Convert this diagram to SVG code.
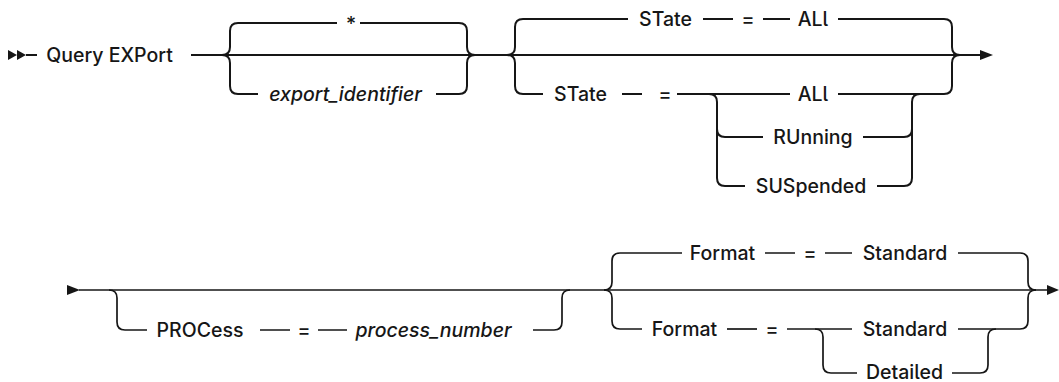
<svg xmlns="http://www.w3.org/2000/svg" width="1059" height="382" viewBox="0 0 1059 382">
<style>
.t{font-family:Inter,"Liberation Sans",Arial,sans-serif;font-size:19.5px;font-weight:500;fill:#161616;text-anchor:middle;font-feature-settings:"cv05" 1}
.i{font-style:italic}
.c{fill:none;stroke:#161616;stroke-width:2}
.c2{fill:none;stroke:#161616;stroke-width:1.7}
.a{fill:#161616}
</style>
<rect width="1059" height="382" fill="#ffffff"/>
<g id="connectors">
<!-- row 1 -->
<polygon class="a" points="8,50 17,55 8,60"/>
<polygon class="a" points="17,50 26,55 17,60"/>
<path class="c" d="M26,55 H37"/>
<path class="c" d="M191,55 H981"/>
<polygon class="a" points="980,50 993,55 980,60"/>
<!-- group 1 -->
<path class="c" d="M222,55 Q230,55 230,47 V31 Q230,23 238,23 H337"/>
<path class="c" d="M360,23 H459 Q467,23 467,31 V47 Q467,55 475,55"/>
<path class="c" d="M222,55 Q230,55 230,63 V86 Q230,94 238,94 H258"/>
<path class="c" d="M436,94 H459 Q467,94 467,86 V63 Q467,55 475,55"/>
<!-- group 2 top -->
<path class="c" d="M507,55 Q515,55 515,47 V27 Q515,19 523,19 H628"/>
<path class="c" d="M703,19 H733 M763,19 H790"/>
<path class="c" d="M838,19 H944 Q952,19 952,27 V47 Q952,55 960,55"/>
<!-- group 2 bottom -->
<path class="c" d="M507,55 Q515,55 515,63 V86 Q515,94 523,94 H543"/>
<path class="c" d="M622,94 H642"/>
<path class="c" d="M677,94 H790"/>
<path class="c" d="M838,94 H944 Q952,94 952,86 V63 Q952,55 960,55"/>
<path class="c" d="M709,94 Q717,94 717,102 V178 Q717,186 725,186 H745"/>
<path class="c" d="M717,129 Q717,137 725,137 H763"/>
<path class="c" d="M863,137 H904 Q912,137 912,129"/>
<path class="c" d="M877,186 H904 Q912,186 912,178 V102 Q912,94 920,94"/>
<!-- row 2 -->
<polygon class="a" points="67,285 80,290 67,295"/>
<path class="c2" d="M79,290 H1048"/>
<polygon class="a" points="1047,285 1059,290 1047,295"/>
<path class="c2" d="M109,290 Q117,290 117,298 V322 Q117,330 125,330 H147"/>
<path class="c2" d="M260,330 H290 M318,330 H347"/>
<path class="c2" d="M533,330 H554 Q562,330 562,322 V298 Q562,290 570,290"/>
<path class="c2" d="M604,290 Q612,290 612,282 V261 Q612,253 620,253 H682"/>
<path class="c2" d="M765,253 H795 M825,253 H852"/>
<path class="c2" d="M958,253 H1020 Q1028,253 1028,261 V282 Q1028,290 1036,290"/>
<path class="c2" d="M604,290 Q612,290 612,298 V321 Q612,329 620,329 H642"/>
<path class="c2" d="M727,329 H757"/>
<path class="c2" d="M787,329 H852"/>
<path class="c2" d="M958,329 H1020 Q1028,329 1028,321 V298 Q1028,290 1036,290"/>
<path class="c2" d="M815,329 Q823,329 823,337 V365 Q823,373 831,373 H857"/>
<path class="c2" d="M952,373 H980 Q988,373 988,365 V337 Q988,329 996,329"/>
</g>
<g id="n-query"><text class="t" x="109.5" y="62">Query EXPort</text></g>
<g id="n-star"><text class="t" x="351" y="31">*</text></g>
<g id="n-export-id"><text class="t i" x="345.5" y="101">export_identifier</text></g>
<g id="n-state1"><text class="t" x="665.5" y="26">STate</text></g>
<g id="n-eq1"><text class="t" x="748" y="26">=</text></g>
<g id="n-all1"><text class="t" x="813" y="26">ALl</text></g>
<g id="n-state2"><text class="t" x="580.5" y="101">STate</text></g>
<g id="n-eq2"><text class="t" x="665" y="101">=</text></g>
<g id="n-all2"><text class="t" x="813" y="101">ALl</text></g>
<g id="n-running"><text class="t" x="813" y="144">RUnning</text></g>
<g id="n-suspended"><text class="t" x="811" y="193">SUSpended</text></g>
<g id="n-process"><text class="t" x="200" y="337">PROCess</text></g>
<g id="n-eq3"><text class="t" x="304" y="337">=</text></g>
<g id="n-procnum"><text class="t i" x="433.5" y="337">process_number</text></g>
<g id="n-format1"><text class="t" x="722.5" y="260">Format</text></g>
<g id="n-eq4"><text class="t" x="810" y="260">=</text></g>
<g id="n-standard1"><text class="t" x="905" y="260">Standard</text></g>
<g id="n-format2"><text class="t" x="684.5" y="336">Format</text></g>
<g id="n-eq5"><text class="t" x="772" y="336">=</text></g>
<g id="n-standard2"><text class="t" x="905" y="336">Standard</text></g>
<g id="n-detailed"><text class="t" x="904.5" y="379">Detailed</text></g>
</svg>
